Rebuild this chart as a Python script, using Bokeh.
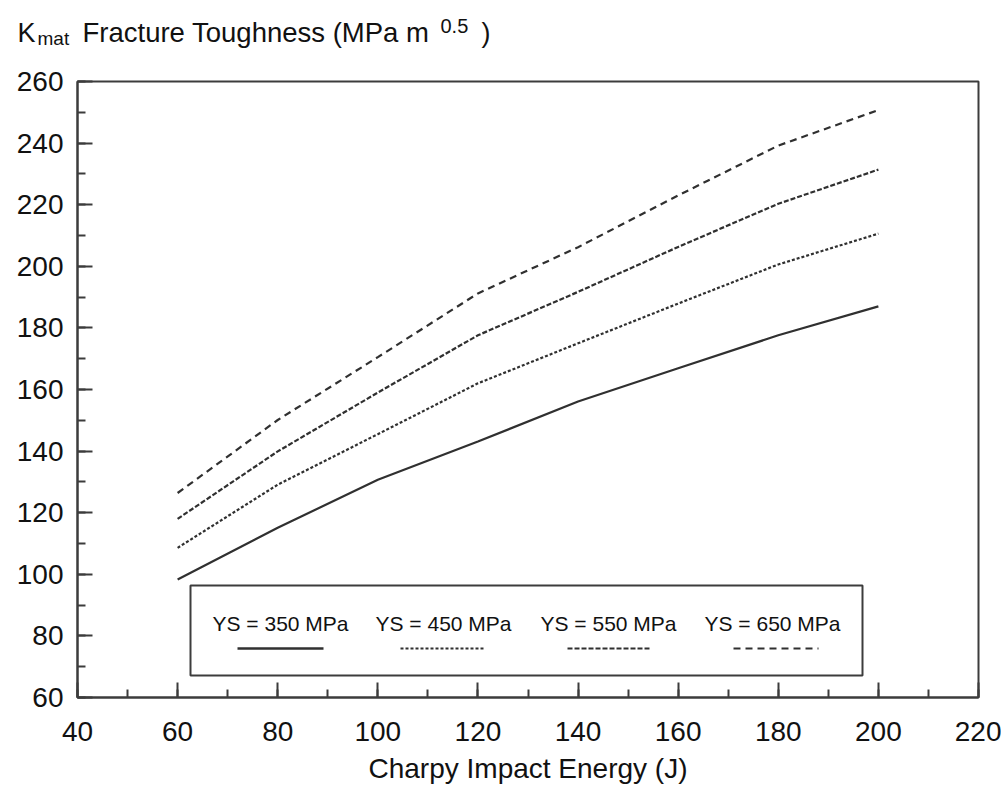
from bokeh.plotting import figure
from bokeh.models import Range1d, SingleIntervalTicker, Label, BoxAnnotation, ColumnDataSource
from bokeh.layouts import column, row
from bokeh.core.properties import value
from bokeh.embed import file_html
from bokeh.resources import INLINE

# Charpy impact energy (J) and Kmat fracture toughness (MPa m^0.5)
energy = [60, 80, 100, 120, 140, 160, 180, 200]
kmat_ys350 = [98.3, 115.1, 130.7, 143.1, 156.1, 166.9, 177.6, 187.0]
kmat_ys450 = [108.6, 129.1, 145.5, 162.0, 175.0, 187.9, 200.6, 210.6]
kmat_ys550 = [118.0, 139.9, 159.0, 177.6, 191.7, 206.3, 220.3, 231.4]
kmat_ys650 = [126.4, 150.1, 170.5, 191.2, 206.2, 223.0, 239.2, 250.7]

series_labels = ["YS = 350 MPa", "YS = 450 MPa", "YS = 550 MPa", "YS = 650 MPa"]
x_title = "Charpy Impact Energy (J)"
y_title_parts = ["K", "mat", "Fracture Toughness (MPa m", "0.5", ")"]

FONT = "Liberation Sans"
INK = "#303030"
AXIS = "#3c3c3c"
TEXT = "#111111"

W, H = 1001, 789
TITLE_H = 62

# --- heading strip carrying the quantity name (with sub/superscript) ---
head = figure(width=W, height=TITLE_H, output_backend="svg", toolbar_location=None,
              x_range=Range1d(0, W), y_range=Range1d(TITLE_H, 0),
              x_axis_location=None, y_axis_location=None,
              min_border=0)
head.xgrid.visible = False
head.ygrid.visible = False
head.outline_line_color = None
head_src = ColumnDataSource(dict(
    text=y_title_parts,
    x=[17, 37, 82, 440, 481],
    y=[32, 38, 32, 25, 32],
    size=["27px", "19px", "27.5px", "20px", "27px"],
))
head.text(x="x", y="y", text="text", source=head_src, text_font=value(FONT),
          text_font_size="size", text_color=TEXT, text_baseline="alphabetic",
          text_align="left")

# --- main chart ---
MH = H - TITLE_H
BL, BR, BT, BB = 77, 23, 81 - TITLE_H, 92
X_LO, X_HI, Y_LO, Y_HI = 40, 220, 60, 260

p = figure(width=W, height=MH, output_backend="svg", toolbar_location=None,
           x_range=Range1d(X_LO, X_HI), y_range=Range1d(Y_LO, Y_HI),
           min_border_left=BL, min_border_right=BR,
           min_border_top=BT, min_border_bottom=BB)
p.xgrid.visible = False
p.ygrid.visible = False
p.background_fill_color = "white"
p.border_fill_color = "white"
p.outline_line_color = AXIS
p.outline_line_width = 2

# pixel (page coordinates) -> data helpers for the legend layout
FW = W - BL - BR
FH = MH - BT - BB
def dx(px):
    return X_LO + (px - BL) * (X_HI - X_LO) / FW
def dy(py):
    return Y_LO + (H - BB - py) * (Y_HI - Y_LO) / FH

for ax in (p.xaxis[0], p.yaxis[0]):
    ax.ticker = SingleIntervalTicker(interval=20, num_minor_ticks=2)
    ax.major_tick_in = 15
    ax.major_tick_out = 0
    ax.minor_tick_in = 8
    ax.minor_tick_out = 0
    ax.axis_line_width = 2
    ax.axis_line_color = AXIS
    ax.major_tick_line_width = 2
    ax.major_tick_line_color = AXIS
    ax.minor_tick_line_width = 2
    ax.minor_tick_line_color = AXIS
    ax.major_label_text_font = FONT
    ax.major_label_text_font_size = "28px"
    ax.major_label_text_color = TEXT

p.xaxis.major_label_standoff = 24
p.yaxis.major_label_standoff = 14
p.xaxis.axis_label = x_title
p.xaxis.axis_label_text_font = FONT
p.xaxis.axis_label_text_font_size = "28px"
p.xaxis.axis_label_text_font_style = "normal"
p.xaxis.axis_label_text_color = TEXT
p.xaxis.axis_label_standoff = 9

styles = [
    (kmat_ys350, "solid"),
    (kmat_ys450, "3 2"),
    (kmat_ys550, "5 2"),
    (kmat_ys650, "7 5"),
]
for ys, dash in styles:
    p.line(energy, ys, line_color=INK, line_width=2.2, line_dash=dash)

# legend frame with labels stacked over line samples
p.add_layout(BoxAnnotation(left=dx(190), right=dx(862), top=dy(585), bottom=dy(675),
                           fill_alpha=0.0, line_color=AXIS, line_alpha=1.0,
                           line_width=2))
label_cx = [280, 443, 608, 772]
sample_x = [(237, 323), (400, 483), (567, 649), (733, 818)]
for (ys, dash), text, cx, (sx0, sx1) in zip(styles, series_labels, label_cx, sample_x):
    p.add_layout(Label(x=dx(cx), y=dy(623), text=text, text_align="center",
                       text_baseline="alphabetic", text_font=FONT,
                       text_font_size="21px", text_color=TEXT))
    p.line([dx(sx0), dx(sx1)], [dy(648), dy(648)], line_color=INK,
           line_width=2.5 if dash == "solid" else 2, line_dash=dash)

layout = column(row(head), p, spacing=0)
open("out.html", "w").write(file_html(layout, INLINE))
